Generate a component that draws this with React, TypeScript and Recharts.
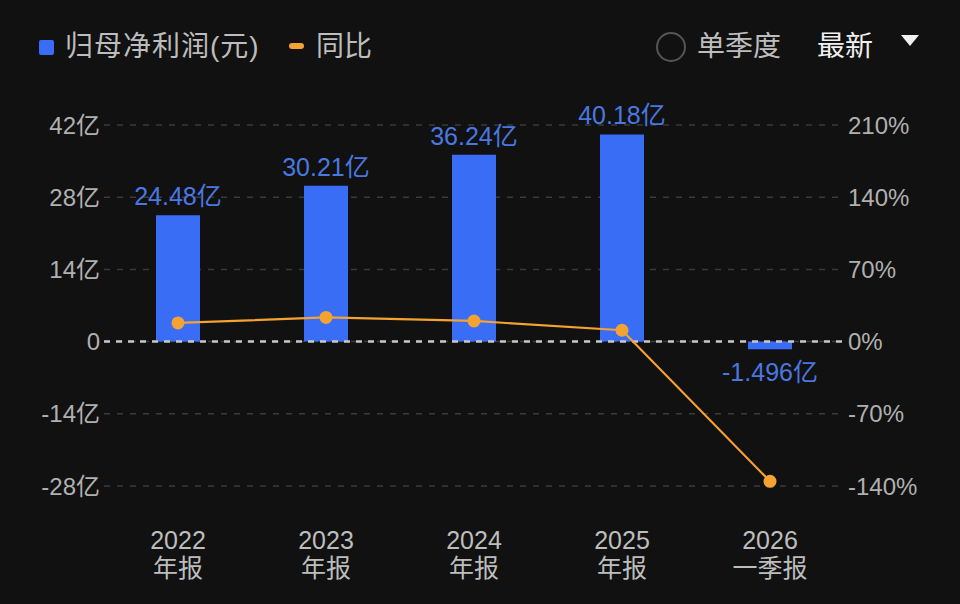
import { ComposedChart, Bar, Line, XAxis, YAxis, CartesianGrid, ReferenceLine, LabelList } from "recharts";

const years = ["2022", "2023", "2024", "2025", "2026"];
const periods = ["年报", "年报", "年报", "年报", "一季报"];
const profit = [24.48, 30.21, 36.24, 40.18, -1.496]; // 亿元
const yoy = [18.1, 23.4, 20.0, 11.0, -135.5]; // %
const leftTicks = [-28, -14, 0, 14, 28, 42];
const rightTicks = [-140, -70, 0, 70, 140, 210];

const data = years.map((year, i) => ({ year, profit: profit[i], yoy: yoy[i] }));

const FONT = '"Liberation Sans", "Noto Sans CJK SC", sans-serif';
const BLUE = "#3a6df5";
const ORANGE = "#f4a232";

function XTick({ x, y, payload }: any) {
  const period = periods[payload.index] ?? "";
  return (
    <g>
      <text x={x} y={y + 52} textAnchor="middle" dominantBaseline="central" fill="#bdbdbd" fontSize={25} fontFamily={FONT}>
        {payload.value}
      </text>
      <text x={x} y={y + 80} textAnchor="middle" dominantBaseline="central" fill="#bdbdbd" fontSize={25} fontFamily={FONT}>
        {period}
      </text>
    </g>
  );
}

function BarValue(props: any) {
  const { x, y, width, height, value } = props;
  const top = Math.min(y, y + height);
  const bottom = Math.max(y, y + height);
  const neg = Number(value) < 0;
  return (
    <text
      x={x + width / 2}
      y={neg ? bottom + 23 : top - 19}
      textAnchor="middle"
      dominantBaseline="central"
      fill="#4a78e0"
      fontSize={25}
      fontFamily={FONT}
    >
      {value}亿
    </text>
  );
}

export default function App() {
  return (
    <div style={{ position: "absolute", left: 0, top: 0, width: 960, height: 604, background: "#111111", overflow: "hidden", fontFamily: FONT }}>
      {/* header legend */}
      <div style={{ position: "absolute", left: 39, top: 40, width: 15, height: 15, borderRadius: 2, background: BLUE }} />
      <div style={{ position: "absolute", left: 65, top: 29, fontSize: 28, lineHeight: "36px", color: "#bdbdbd", letterSpacing: 1 }}>归母净利润(元)</div>
      <div style={{ position: "absolute", left: 289, top: 43, width: 15, height: 6, borderRadius: 3, background: ORANGE }} />
      <div style={{ position: "absolute", left: 316, top: 29, fontSize: 28, lineHeight: "36px", color: "#bdbdbd" }}>同比</div>

      <div style={{ position: "absolute", left: 656, top: 32, width: 26, height: 26, borderRadius: "50%", border: "2px solid #555" }} />
      <div style={{ position: "absolute", left: 697, top: 29, fontSize: 28, lineHeight: "36px", color: "#bdbdbd" }}>单季度</div>
      <div style={{ position: "absolute", left: 817, top: 29, fontSize: 28, lineHeight: "36px", color: "#f0f0f0" }}>最新</div>
      <div
        style={{
          position: "absolute",
          left: 901,
          top: 35,
          width: 0,
          height: 0,
          borderLeft: "9px solid transparent",
          borderRight: "9px solid transparent",
          borderTop: "11px solid #f0f0f0",
        }}
      />

      <div style={{ position: "absolute", left: 0, top: 0 }}>
        <ComposedChart width={960} height={604} data={data} margin={{ top: 125, right: 0, bottom: 8, left: 0 }}>
          <CartesianGrid yAxisId="left" vertical={false} stroke="#3a3a3a" strokeWidth={1.5} strokeDasharray="6 7" />
          <XAxis dataKey="year" height={110} axisLine={false} tickLine={false} tickSize={0} tick={<XTick />} interval={0} />
          <YAxis
            yAxisId="left"
            orientation="left"
            width={104}
            domain={[-28, 42]}
            ticks={leftTicks}
            axisLine={false}
            tickLine={false}
            tickSize={0}
            tickMargin={4}
            tickFormatter={(v: number) => (v === 0 ? "0" : `${v}亿`)}
            tick={{ fill: "#b0b0b0", fontSize: 24, fontFamily: FONT }}
          />
          <YAxis
            yAxisId="right"
            orientation="right"
            width={116}
            domain={[-140, 210]}
            ticks={rightTicks}
            axisLine={false}
            tickLine={false}
            tickSize={0}
            tickMargin={4}
            tickFormatter={(v: number) => `${v}%`}
            tick={{ fill: "#b0b0b0", fontSize: 24, fontFamily: FONT }}
          />
          <ReferenceLine yAxisId="left" y={0} stroke="#c8c8c8" strokeWidth={2.5} strokeDasharray="6 6" />
          <Bar yAxisId="left" dataKey="profit" fill={BLUE} barSize={44} isAnimationActive={false}>
            <LabelList dataKey="profit" content={BarValue} />
          </Bar>
          <Line
            yAxisId="right"
            dataKey="yoy"
            stroke={ORANGE}
            strokeWidth={2.2}
            dot={{ r: 6.5, fill: ORANGE, stroke: ORANGE, strokeWidth: 0 }}
            activeDot={false}
            isAnimationActive={false}
          />
        </ComposedChart>
      </div>
    </div>
  );
}
